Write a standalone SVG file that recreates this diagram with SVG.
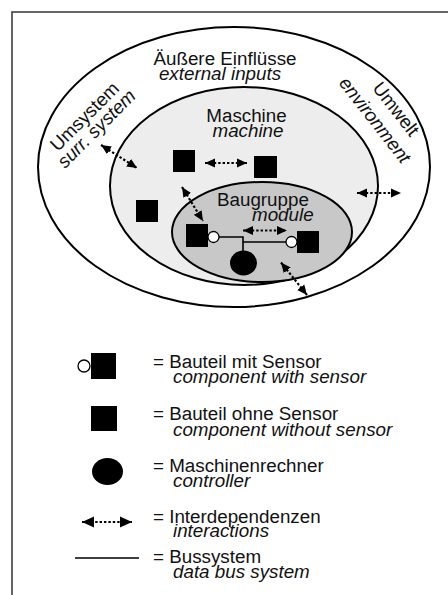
<svg xmlns="http://www.w3.org/2000/svg" width="448" height="595" viewBox="0 0 448 595">
  <defs>
    <marker id="ah" viewBox="0 0 10 10" refX="10" refY="5" markerWidth="10" markerHeight="10" markerUnits="userSpaceOnUse" orient="auto-start-reverse">
      <path d="M0,0.5 L10,5 L0,9.5 z" fill="#000"/>
    </marker>
    <marker id="ahL" viewBox="0 0 10 10" refX="10" refY="5" markerWidth="12" markerHeight="12" markerUnits="userSpaceOnUse" orient="auto-start-reverse">
      <path d="M0,0.5 L10,5 L0,9.5 z" fill="#000"/>
    </marker>
  </defs>
  <style>
    text { font-family: "Liberation Sans", Arial, sans-serif; font-size: 18.8px; fill: #111; }
    .it { font-style: italic; }
    .mid { text-anchor: middle; }
    .region { stroke: #000; stroke-width: 2; }
    .comp { fill: #000; }
    .sensor { fill: #fff; stroke: #000; stroke-width: 1.3; }
    .inter { fill: none; stroke: #000; stroke-width: 2.2; stroke-dasharray: 2.4 2; marker-start: url(#ah); marker-end: url(#ah); }
    .interL { fill: none; stroke: #000; stroke-width: 2.2; stroke-dasharray: 2.4 2; marker-start: url(#ahL); marker-end: url(#ahL); }
    .bus { fill: none; stroke: #000; stroke-width: 1.6; }
    .frame { fill: none; stroke: #333; stroke-width: 1.5; }
  </style>
  <rect width="448" height="595" fill="#fff"/>
  <path class="frame" d="M448,12 H12 V595"/>

  <g id="outer">
    <ellipse class="region" cx="234" cy="167" rx="196" ry="140" fill="#fff"/>
    <text class="mid" x="225" y="65">Äußere Einflüsse</text>
    <text class="mid it" x="220" y="80">external inputs</text>
  </g>
  <g id="umsystem">
    <text class="mid" transform="translate(89,121) rotate(-45)">Umsystem</text>
    <text class="mid it" transform="translate(101,133) rotate(-45)">surr. system</text>
  </g>
  <g id="umwelt">
    <text class="mid" transform="translate(391,113) rotate(52)">Umwelt</text>
    <text class="mid it" transform="translate(370,124) rotate(52)">environment</text>
  </g>
  <g id="machine">
    <ellipse class="region" cx="244" cy="186" rx="134" ry="99" fill="#ededed"/>
    <text class="mid" x="246.5" y="122">Maschine</text>
    <text class="mid it" x="248" y="137">machine</text>
  </g>
  <g id="module">
    <ellipse class="region" cx="262" cy="232" rx="90" ry="50" fill="#c8c8c8"/>
    <text x="217" y="206">Baugruppe</text>
    <text class="it" x="252" y="221">module</text>
  </g>

  <g id="compA"><rect class="comp" x="173" y="150" width="22" height="22"/></g>
  <g id="compB"><rect class="comp" x="254" y="156" width="23" height="22"/></g>
  <g id="compC"><rect class="comp" x="136" y="200" width="22" height="22"/></g>
  <g id="compD"><rect class="comp" x="186" y="224" width="22" height="23"/></g>
  <g id="compE"><rect class="comp" x="297" y="231" width="22" height="22"/></g>
  <g id="controller"><ellipse class="comp" cx="243.5" cy="263" rx="13.5" ry="12.5"/></g>

  <g id="connectors">
    <path class="bus" d="M214,237 H243 V252"/>
    <path class="bus" d="M243,242 H291"/>
    <line class="inter" x1="101" y1="145" x2="137" y2="168"/>
    <line class="inter" x1="205" y1="163" x2="247" y2="163"/>
    <line class="inter" x1="182" y1="187" x2="203" y2="221"/>
    <line class="inter" x1="243" y1="230.5" x2="287" y2="230.5"/>
    <line class="inter" x1="357" y1="193" x2="401" y2="193"/>
    <line class="inter" x1="281" y1="262.5" x2="307" y2="295"/>
  </g>
  <g id="sensorD"><circle class="sensor" cx="213.5" cy="237" r="5.5"/></g>
  <g id="sensorE"><circle class="sensor" cx="291.5" cy="242" r="5.5"/></g>

  <g id="legend">
    <g id="leg-sensor">
      <circle class="sensor" cx="84" cy="366" r="6"/>
      <rect class="comp" x="91" y="353" width="25" height="26"/>
      <text x="153" y="368">= Bauteil mit Sensor</text>
      <text class="it" x="173" y="383">component with sensor</text>
    </g>
    <g id="leg-comp">
      <rect class="comp" x="91" y="406" width="26" height="25"/>
      <text x="153" y="420">= Bauteil ohne Sensor</text>
      <text class="it" x="173" y="436">component without sensor</text>
    </g>
    <g id="leg-ctrl">
      <ellipse class="comp" cx="107.5" cy="471.5" rx="15.5" ry="13.5"/>
      <text x="153" y="472">= Maschinenrechner</text>
      <text class="it" x="173" y="487">controller</text>
    </g>
    <g id="leg-inter">
      <line class="interL" x1="82" y1="522" x2="132" y2="522"/>
      <text x="153" y="523">= Interdependenzen</text>
      <text class="it" x="173" y="537">interactions</text>
    </g>
    <g id="leg-bus">
      <line class="bus" x1="75" y1="558" x2="139" y2="558" stroke-width="2"/>
      <text x="153" y="563">= Bussystem</text>
      <text class="it" x="173" y="578">data bus system</text>
    </g>
  </g>
</svg>
